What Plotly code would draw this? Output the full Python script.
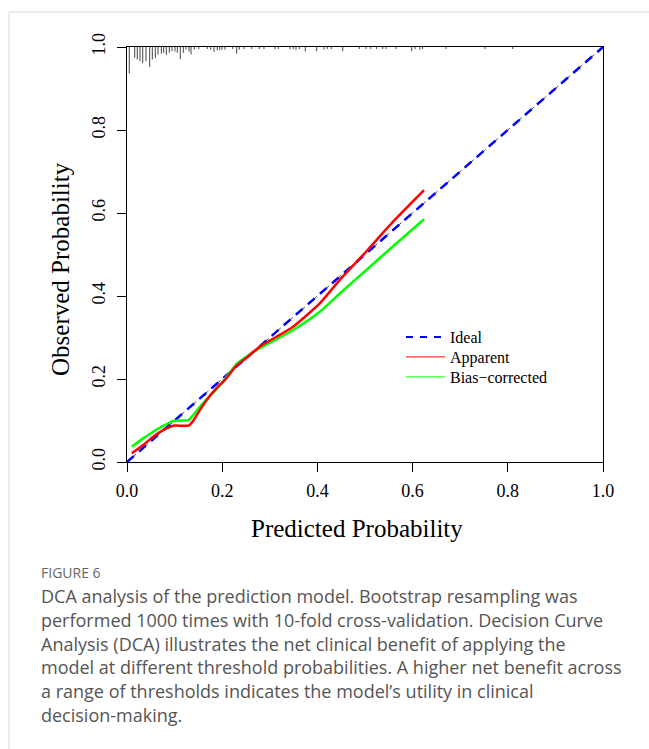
import plotly.graph_objects as go

# ---------------- data ----------------
pred_x = [0.010, 0.034, 0.055, 0.076, 0.097, 0.115, 0.129, 0.139, 0.153, 0.167,
          0.188, 0.206, 0.230, 0.250, 0.279, 0.349, 0.405, 0.447, 0.504, 0.559, 0.624]
apparent = [0.021, 0.041, 0.061, 0.077, 0.0875, 0.0875, 0.0875, 0.099, 0.125, 0.149,
            0.178, 0.198, 0.232, 0.250, 0.278, 0.326, 0.382, 0.439, 0.509, 0.579, 0.655]
bias_corrected = [0.037, 0.057, 0.073, 0.087, 0.099, 0.100, 0.101, 0.113, 0.133, 0.151,
                  0.175, 0.200, 0.236, 0.253, 0.274, 0.318, 0.362, 0.406, 0.464, 0.520, 0.585]
ideal_x = [0.0, 1.0]
ideal_y = [0.0, 1.0]

# distribution of predicted probabilities (rug at top): position, relative frequency
rug_x = [0.0048, 0.0162, 0.0216, 0.0273, 0.0330, 0.0399, 0.0477, 0.0532, 0.0595, 0.0651,
         0.0721, 0.0771, 0.0826, 0.0889, 0.0945, 0.1008, 0.1057, 0.1120, 0.1183, 0.1239,
         0.1303, 0.1345, 0.1414, 0.1506, 0.1687, 0.1758, 0.1828, 0.1897, 0.1948, 0.1996,
         0.2059, 0.2221, 0.2305, 0.2359, 0.2458, 0.2620, 0.2779, 0.2878, 0.3109, 0.3179,
         0.3424, 0.3494, 0.3550, 0.3620, 0.3746, 0.3985, 0.4139, 0.4208, 0.4292, 0.4532,
         0.4880, 0.5021, 0.5120, 0.5246, 0.5372, 0.5441, 0.5651, 0.5981, 0.6050, 0.6155,
         0.6212, 0.6702, 0.7521, 0.8103]
rug_h = [0.064, 0.026, 0.030, 0.034, 0.039, 0.034, 0.048, 0.030, 0.027, 0.018,
         0.016, 0.014, 0.019, 0.014, 0.010, 0.011, 0.014, 0.029, 0.014, 0.006,
         0.011, 0.018, 0.006, 0.005, 0.005, 0.0065, 0.012, 0.008, 0.008, 0.0065,
         0.0065, 0.005, 0.016, 0.0065, 0.005, 0.005, 0.005, 0.005, 0.005, 0.005,
         0.005, 0.005, 0.0065, 0.005, 0.011, 0.010, 0.0065, 0.005, 0.005, 0.010,
         0.005, 0.005, 0.005, 0.005, 0.005, 0.005, 0.005, 0.010, 0.005, 0.0065,
         0.005, 0.005, 0.005, 0.005]

tick_vals = [0.0, 0.2, 0.4, 0.6, 0.8, 1.0]
tick_text = ["0.0", "0.2", "0.4", "0.6", "0.8", "1.0"]

x_title = "Predicted Probability"
y_title = "Observed Probability"
legend_names = ["Ideal", "Apparent", "Bias\u2212corrected"]
fig_label = "FIGURE 6"
caption_lines = [
    "DCA analysis of the prediction model. Bootstrap resampling was",
    "performed 1000 times with 10-fold cross-validation. Decision Curve",
    "Analysis (DCA) illustrates the net clinical benefit of applying the",
    "model at different threshold probabilities. A higher net benefit across",
    "a range of thresholds indicates the model\u2019s utility in clinical",
    "decision-making.",
]

# ---------------- layout geometry ----------------
W, H = 649, 749
L, R, T, B = 127, 46, 47, 287
PW, PH = W - L - R, H - T - B


def px(xp):
    return (xp - L) / PW


def py(yp):
    return (H - B - yp) / PH


SERIF = "Liberation Serif, Times New Roman, serif"
SANS = "Open Sans, sans-serif"

fig = go.Figure()

# rug
rx, ry = [], []
for xv, hv in zip(rug_x, rug_h):
    rx += [xv, xv, None]
    ry += [1.0, 1.0 - hv, None]
fig.add_trace(go.Scatter(x=rx, y=ry, mode="lines", line=dict(color="#444444", width=1),
                         showlegend=False, hoverinfo="skip"))

# ideal line: thin gray dashed reference + blue dashed
fig.add_trace(go.Scatter(x=ideal_x, y=ideal_y, mode="lines",
                         line=dict(color="#444444", width=1, dash="4px,4px"),
                         showlegend=False, hoverinfo="skip"))
fig.add_trace(go.Scatter(x=ideal_x, y=ideal_y, mode="lines",
                         line=dict(color="#0000FF", width=2.5, dash="9px,7px"),
                         showlegend=False))
fig.add_trace(go.Scatter(x=pred_x, y=bias_corrected, mode="lines",
                         line=dict(color="#00FF00", width=2.5, shape="spline", smoothing=0.5),
                         showlegend=False))
fig.add_trace(go.Scatter(x=pred_x, y=apparent, mode="lines",
                         line=dict(color="#FF0000", width=2.5, shape="spline", smoothing=0.5),
                         showlegend=False))

# legend entries (one legend each, for exact line spacing)
leg_styles = [dict(color="#0000FF", width=2, dash="7px,7px"),
              dict(color="#FF0000", width=1),
              dict(color="#00FF00", width=1)]
leg_ids = ["legend", "legend2", "legend3"]
leg_y = [337, 357, 377]
for name, st, lid in zip(legend_names, leg_styles, leg_ids):
    fig.add_trace(go.Scatter(x=[None], y=[None], mode="lines", name=name, line=st,
                             legend=lid, showlegend=True))

axis_common = dict(
    range=[0, 1], showgrid=False, zeroline=False,
    showline=True, linecolor="black", linewidth=1, mirror=True,
    ticks="outside", ticklen=9, tickcolor="black", tickwidth=1,
    tickvals=tick_vals, ticktext=tick_text,
    tickfont=dict(family=SERIF, size=18, color="black"),
)

leg_common = dict(xanchor="left", yanchor="middle",
                  font=dict(family=SERIF, size=16, color="black"),
                  bgcolor="rgba(0,0,0,0)", borderwidth=0, itemwidth=39)

fig.update_layout(
    width=W, height=H,
    margin=dict(l=L, r=R, t=T, b=B, pad=0),
    paper_bgcolor="white", plot_bgcolor="white",
    xaxis=dict(**axis_common, ticklabelstandoff=3),
    yaxis=dict(**axis_common, tickangle=-90, ticklabelstandoff=5),
    showlegend=True,
    legend=dict(x=px(401), y=py(leg_y[0]), **leg_common),
    legend2=dict(x=px(401), y=py(leg_y[1]), **leg_common),
    legend3=dict(x=px(401), y=py(leg_y[2]), **leg_common),
)

annotations = [
    dict(text=x_title, x=px(357), y=py(528), xref="paper", yref="paper",
         showarrow=False, xanchor="center", yanchor="middle",
         font=dict(family=SERIF, size=25, color="black")),
    dict(text=y_title, x=px(60), y=py(269), xref="paper", yref="paper",
         showarrow=False, xanchor="center", yanchor="middle", textangle=-90,
         font=dict(family=SERIF, size=25, color="black")),
    dict(text=fig_label, x=px(39), y=py(572), xref="paper", yref="paper",
         showarrow=False, xanchor="left", yanchor="middle",
         font=dict(family=SANS, size=14, color="#666666")),
]
for i, line in enumerate(caption_lines):
    annotations.append(dict(text=line, x=px(39), y=py(596 + i * 23.8), xref="paper", yref="paper",
                            showarrow=False, xanchor="left", yanchor="middle",
                            font=dict(family=SANS, size=18, color="#555555")))
fig.update_layout(annotations=annotations)

# card border (left and top)
fig.add_shape(type="line", xref="paper", yref="paper", x0=px(9), x1=px(9), y0=py(12), y1=py(749),
              line=dict(color="#d9d9d9", width=1))
fig.add_shape(type="line", xref="paper", yref="paper", x0=px(9), x1=px(649), y0=py(12), y1=py(12),
              line=dict(color="#d9d9d9", width=1))

fig.write_html("out.html")
